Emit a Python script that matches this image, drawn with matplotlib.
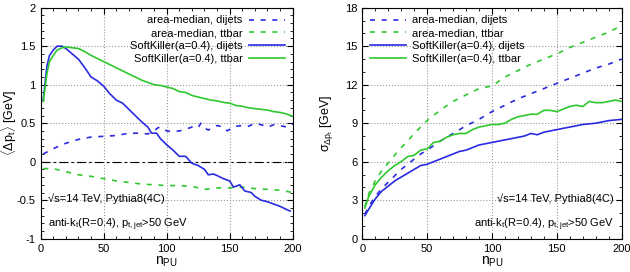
import matplotlib.pyplot as plt
from matplotlib.ticker import MultipleLocator

plt.rcParams['font.family'] = ['Liberation Sans', 'DejaVu Sans']
plt.rcParams['mathtext.fontset'] = 'custom'
plt.rcParams['mathtext.rm'] = 'Liberation Sans'
plt.rcParams['mathtext.it'] = 'Liberation Sans'

# left panel: <Delta pt>
sk_dij_x = [2, 5, 7, 10, 13, 17, 20, 25, 30, 35, 40, 45, 50, 55, 60, 65, 70, 75, 80, 85, 88, 92, 95,
            100, 105, 110, 115, 120, 125, 130, 133, 137, 140, 145, 150, 153, 158, 162, 167, 170,
            175, 180, 185, 190, 195, 198]
sk_dij_y = [0.8, 1.25, 1.38, 1.45, 1.5, 1.5, 1.47, 1.4, 1.33, 1.22, 1.1, 1.05, 0.98, 0.88, 0.8,
            0.76, 0.68, 0.6, 0.52, 0.45, 0.37, 0.37, 0.3, 0.22, 0.15, 0.07, 0.07, -0.02, -0.05,
            -0.1, -0.17, -0.16, -0.18, -0.22, -0.25, -0.33, -0.3, -0.38, -0.4, -0.45, -0.5,
            -0.52, -0.55, -0.58, -0.62, -0.64]
sk_tt_x = [2, 5, 7, 10, 13, 17, 20, 25, 30, 35, 40, 45, 50, 55, 60, 65, 70, 75, 80, 85, 90, 95,
           100, 105, 110, 115, 120, 125, 130, 135, 140, 145, 150, 155, 160, 165, 170, 175, 180,
           185, 190, 195, 200]
sk_tt_y = [0.78, 1.15, 1.3, 1.38, 1.45, 1.48, 1.49, 1.48, 1.47, 1.43, 1.38, 1.34, 1.3, 1.26,
           1.22, 1.18, 1.14, 1.1, 1.06, 1.03, 1.0, 0.99, 0.97, 0.95, 0.91, 0.9, 0.86, 0.84, 0.82,
           0.8, 0.79, 0.77, 0.76, 0.73, 0.72, 0.7, 0.69, 0.68, 0.67, 0.65, 0.64, 0.62, 0.59]
am_dij_x = [2, 10, 20, 30, 40, 50, 60, 70, 80, 85, 90, 93, 95, 100, 105, 110, 115, 120, 125, 127,
            130, 133, 137, 140, 145, 148, 152, 155, 160, 165, 170, 175, 180, 185, 190, 195, 200]
am_dij_y = [0.1, 0.17, 0.24, 0.29, 0.32, 0.33, 0.34, 0.37, 0.37, 0.36, 0.4, 0.44, 0.45, 0.4,
            0.39, 0.4, 0.42, 0.45, 0.44, 0.5, 0.44, 0.41, 0.45, 0.47, 0.45, 0.4, 0.44, 0.46,
            0.47, 0.46, 0.5, 0.48, 0.45, 0.48, 0.47, 0.45, 0.49]
am_tt_x = [2, 10, 20, 30, 40, 50, 60, 70, 80, 90, 100, 110, 120, 130, 140, 150, 160, 170, 180,
           190, 200]
am_tt_y = [-0.09, -0.09, -0.13, -0.17, -0.19, -0.22, -0.25, -0.27, -0.29, -0.3, -0.31, -0.31,
           -0.32, -0.36, -0.34, -0.34, -0.33, -0.35, -0.36, -0.37, -0.4]

# right panel: sigma of Delta pt
npu_r = [2, 5, 10, 15, 20, 25, 30, 35, 40, 45, 50, 55, 60, 65, 70, 75, 80, 85, 90, 95, 100, 105,
         110, 115, 120, 125, 130, 135, 140, 145, 150, 155, 160, 165, 170, 175, 180, 185, 190,
         195, 200]
sig_sk_dij = [1.8, 2.3, 3.1, 3.7, 4.1, 4.5, 4.8, 5.1, 5.4, 5.7, 5.8, 6.0, 6.2, 6.4, 6.6, 6.8,
              6.9, 7.1, 7.3, 7.4, 7.5, 7.6, 7.7, 7.8, 7.9, 8.0, 8.2, 8.1, 8.3, 8.4, 8.5, 8.6,
              8.7, 8.8, 8.9, 8.95, 9.0, 9.1, 9.2, 9.25, 9.3]
sig_sk_tt = [2.4, 3.3, 4.2, 4.8, 5.3, 5.7, 6.0, 6.4, 6.5, 6.9, 7.0, 7.5, 7.6, 7.9, 8.1, 8.2,
             8.2, 8.5, 8.7, 8.8, 8.9, 8.9, 9.0, 9.3, 9.5, 9.6, 9.7, 9.7, 10.0, 10.0, 9.9, 10.1,
             10.3, 10.4, 10.3, 10.7, 10.6, 10.6, 10.7, 10.8, 10.7]
npu_am = [2, 5, 10, 15, 20, 25, 30, 35, 40, 45, 50, 60, 70, 80, 90, 100, 110, 120, 130, 140,
          150, 160, 170, 180, 190, 200]
sig_am_dij = [1.9, 2.5, 3.3, 3.9, 4.4, 4.9, 5.4, 5.8, 6.2, 6.6, 6.9, 7.6, 8.2, 8.8, 9.3, 9.9,
              10.4, 10.9, 11.3, 11.7, 12.1, 12.5, 12.9, 13.3, 13.6, 14.0]
sig_am_tt = [2.5, 3.5, 4.5, 5.3, 5.9, 6.5, 7.1, 7.6, 8.2, 8.7, 9.2, 10.0, 10.7, 11.2, 11.7,
             11.9, 12.6, 13.1, 13.6, 14.0, 14.4, 14.9, 15.3, 15.7, 16.1, 16.6]

blue = '#2a2ae0'
green = '#2ec82e'
fs = 8

fig = plt.figure(figsize=(6.3, 2.72), dpi=100)
ax1 = fig.add_axes([0.0646, 0.1224, 0.40, 0.8493])
ax2 = fig.add_axes([0.575, 0.1224, 0.4118, 0.8493])

for ax in (ax1, ax2):
    ax.grid(True, which='major', color='#999999', linestyle=':', linewidth=0.8)
    ax.tick_params(which='both', direction='in', top=True, right=True, labelsize=fs)
    ax.tick_params(which='major', length=4)
    ax.tick_params(which='minor', length=2)
    ax.set_xlim(0, 200)
    ax.xaxis.set_major_locator(MultipleLocator(50))
    ax.xaxis.set_minor_locator(MultipleLocator(10))
    ax.set_xlabel(r'n$_{\rm PU}$', fontsize=10, labelpad=1)
    for s in ax.spines.values():
        s.set_linewidth(0.8)

ax1.axhline(0, color='black', linewidth=0.8, dashes=(8, 3, 2, 3))
ax1.plot(am_dij_x, am_dij_y, color=blue, linestyle=(0, (3, 4)), linewidth=1.2,
         label='area-median, dijets')
ax1.plot(am_tt_x, am_tt_y, color=green, linestyle=(0, (3, 4)), linewidth=1.2,
         label='area-median, ttbar')
ax1.plot(sk_dij_x, sk_dij_y, color=blue, linewidth=1.2, label='SoftKiller(a=0.4), dijets')
ax1.plot(sk_tt_x, sk_tt_y, color=green, linewidth=1.2, label='SoftKiller(a=0.4), ttbar')
ax1.set_ylim(-1, 2)
ax1.set_yticks([-1, -0.5, 0, 0.5, 1, 1.5, 2])
ax1.set_yticklabels(['-1', '-0.5', '0', '0.5', '1', '1.5', '2'])
ax1.yaxis.set_minor_locator(MultipleLocator(0.1))
ax1.set_ylabel(r'$\langle\Delta$p$_t\rangle$ [GeV]', fontsize=9)
ax1.yaxis.set_label_coords(-0.085, 0.5)
ax1.legend(loc='upper right', frameon=False, markerfirst=False, fontsize=fs,
           handlelength=3.2, handletextpad=0.6, labelspacing=0.25, borderaxespad=0.3)
ax1.text(0.03, 0.16, u'\u221as=14 TeV, Pythia8(4C)', transform=ax1.transAxes, fontsize=fs)
ax1.text(0.03, 0.05, r'anti-k$_t$(R=0.4), p$_{t,jet}$>50 GeV', transform=ax1.transAxes,
         fontsize=fs)

ax2.plot(npu_am, sig_am_dij, color=blue, linestyle=(0, (3, 4)), linewidth=1.2,
         label='area-median, dijets')
ax2.plot(npu_am, sig_am_tt, color=green, linestyle=(0, (3, 4)), linewidth=1.2,
         label='area-median, ttbar')
ax2.plot(npu_r, sig_sk_dij, color=blue, linewidth=1.2, label='SoftKiller(a=0.4), dijets')
ax2.plot(npu_r, sig_sk_tt, color=green, linewidth=1.2, label='SoftKiller(a=0.4), ttbar')
ax2.set_ylim(0, 18)
ax2.yaxis.set_major_locator(MultipleLocator(3))
ax2.yaxis.set_minor_locator(MultipleLocator(1))
ax2.set_ylabel(r'$\sigma_{\Delta p_t}$ [GeV]', fontsize=9)
ax2.yaxis.set_label_coords(-0.105, 0.5)
ax2.legend(loc='upper left', frameon=False, fontsize=fs,
           handlelength=3.2, handletextpad=0.6, labelspacing=0.25, borderaxespad=0.3)
ax2.text(0.97, 0.16, u'\u221as=14 TeV, Pythia8(4C)', transform=ax2.transAxes, fontsize=fs,
         ha='right')
ax2.text(0.97, 0.05, r'anti-k$_t$(R=0.4), p$_{t,jet}$>50 GeV', transform=ax2.transAxes,
         fontsize=fs, ha='right')

fig.savefig('out.png', dpi=100)
